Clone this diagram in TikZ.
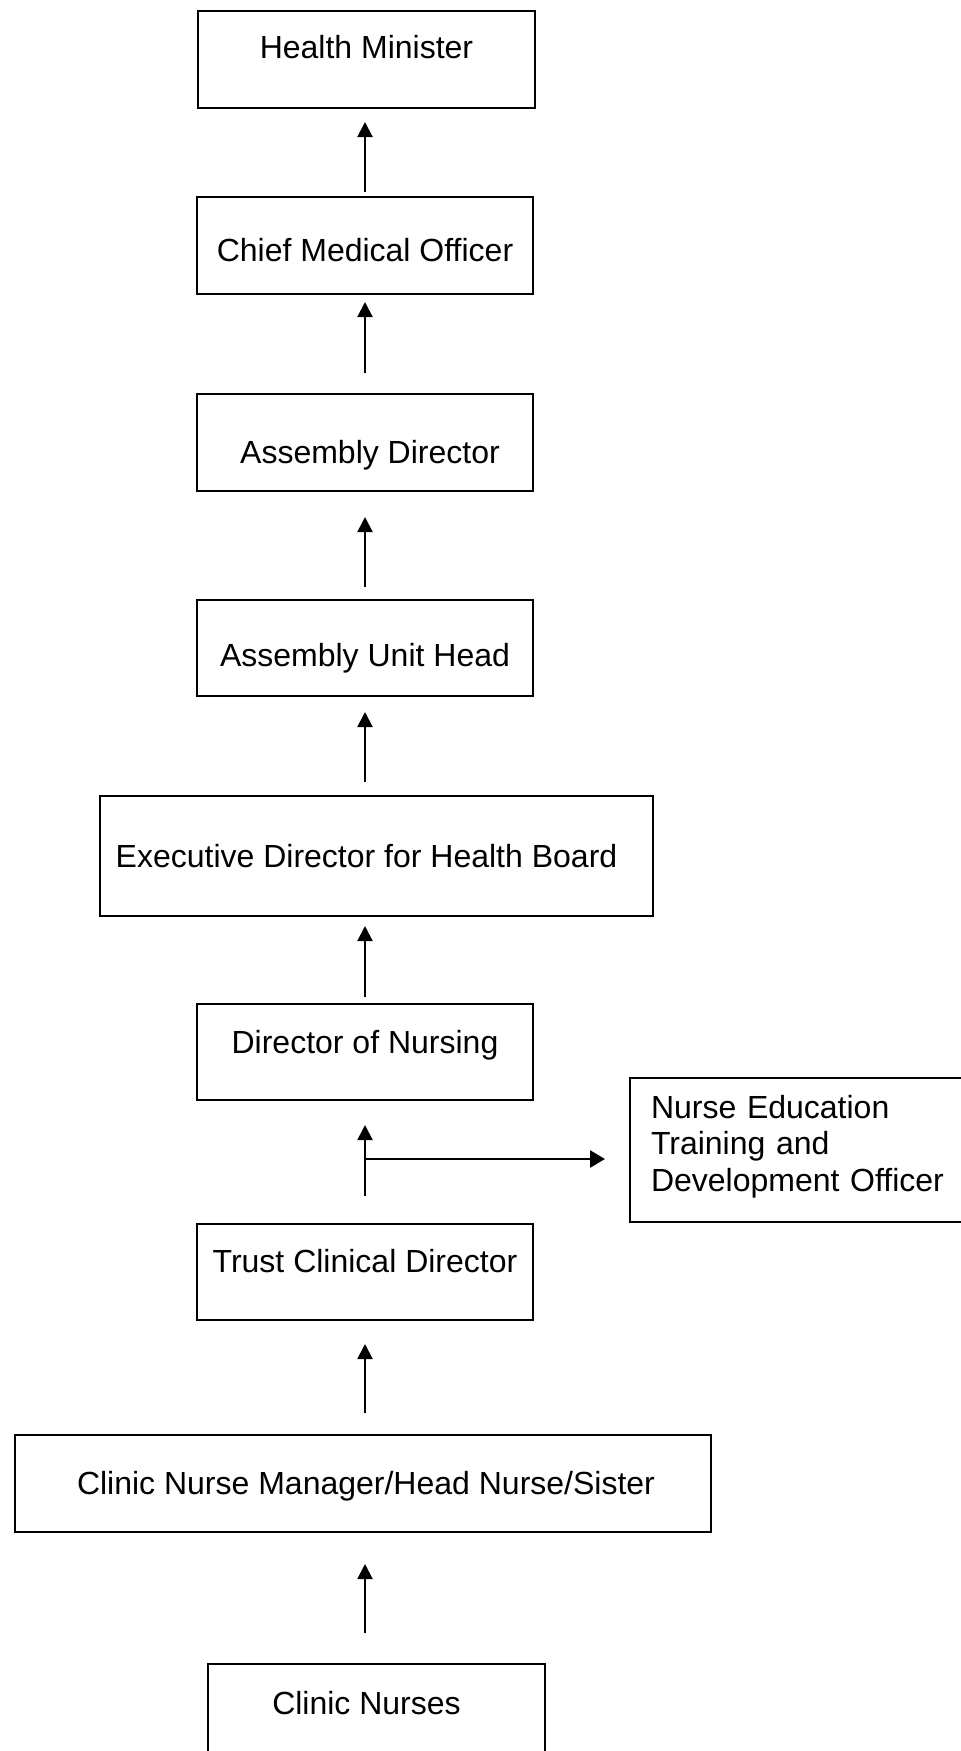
\documentclass[tikz,border=0pt]{standalone}
\usepackage{fontspec}
\setmainfont{Liberation Sans}
\usetikzlibrary{arrows.meta}

\tikzset{
	orgbox/.style={draw, line width=2pt, anchor=north, inner sep=0pt},
	uparrow/.style={line width=2pt, -{Triangle[width=15pt,length=15pt]}},
	sidearrow/.style={line width=2.7pt, -{Triangle[width=17pt,length=15pt]}},
}

\begin{document}
\begin{tikzpicture}[x=1pt, y=-1pt, font=\fontsize{32}{36.6}\selectfont]

\useasboundingbox (0,0) rectangle (961,1751);
\clip (0,0) rectangle (961,1751);

%Health Minister
\node [orgbox,
	minimum width=337pt,
	text height=47pt, text depth=50pt,
]  (hm) at (366.5,10) {Health Minister};

%Chief Medical Officer
\node [orgbox,
	minimum width=336pt,
	text height=64pt, text depth=33pt,
]  (cmo) at (365,196) {Chief Medical Officer};

%Assembly Director
\node [orgbox,
	minimum width=336pt,
	text height=69pt, text depth=28pt,
]  (ad) at (365,393) {\hspace*{10pt}Assembly Director};

%Assembly Unit Head
\node [orgbox,
	minimum width=336pt,
	text height=66pt, text depth=30pt,
]  (auh) at (365,599) {Assembly Unit Head};

%Executive Director
\node [orgbox,
	minimum width=553pt,
	text height=71pt, text depth=49pt,
]  (exec) at (376.5,795) {Executive Director for Health Board\hspace*{20pt}};

%Director of Nursing
\node [orgbox,
	minimum width=336pt,
	text height=49pt, text depth=47pt,
]  (don) at (365,1003) {Director of Nursing};

%Nurse Education side box
\node [orgbox, anchor=north west,
	minimum width=360pt,
	inner xsep=21pt, text width=318pt, align=left,
	text height=40pt, text depth=104pt,
]  (netdo) at (629,1077) {Nurse Education\\Training and\\Development Officer};

%Trust Clinical Director
\node [orgbox,
	minimum width=336pt,
	text height=48pt, text depth=48pt,
]  (tcd) at (365,1223) {Trust Clinical Director};

%Clinic Nurse Manager
\node [orgbox,
	minimum width=696pt,
	text height=59pt, text depth=38pt,
]  (cnm) at (363,1434) {\hspace*{6pt}Clinic Nurse Manager/Head Nurse/Sister};

%Clinic Nurses
\node [orgbox,
	minimum width=337pt,
	text height=50pt, text depth=47pt,
]  (cn) at (376.5,1663) {Clinic Nurses\hspace*{20pt}};


%reporting lines
\draw[uparrow, shorten <=4pt, shorten >=13pt] (cmo.north) -- (cmo.north |- hm.south);
\draw[uparrow, shorten <=20pt, shorten >=7pt] (ad.north) -- (ad.north |- cmo.south);
\draw[uparrow, shorten <=12pt, shorten >=25pt] (auh.north) -- (auh.north |- ad.south);
\draw[uparrow, shorten <=13pt, shorten >=15pt] (auh.south |- exec.north) -- (auh.south);
\draw[uparrow, shorten <=6pt, shorten >=9pt] (don.north) -- (don.north |- exec.south);
\draw[uparrow, shorten <=27pt, shorten >=24pt] (tcd.north) -- (tcd.north |- don.south);
\draw[uparrow, shorten <=21pt, shorten >=23pt] (tcd.south |- cnm.north) -- (tcd.south);
\draw[uparrow, shorten <=30pt, shorten >=31pt] (tcd.south |- cn.north) -- (tcd.south |- cnm.south);

%branch to the side box
\coordinate (brk) at (365,1159);
\draw[sidearrow, shorten >=24pt] (brk) -- (brk -| netdo.west);

\end{tikzpicture}
\end{document}
